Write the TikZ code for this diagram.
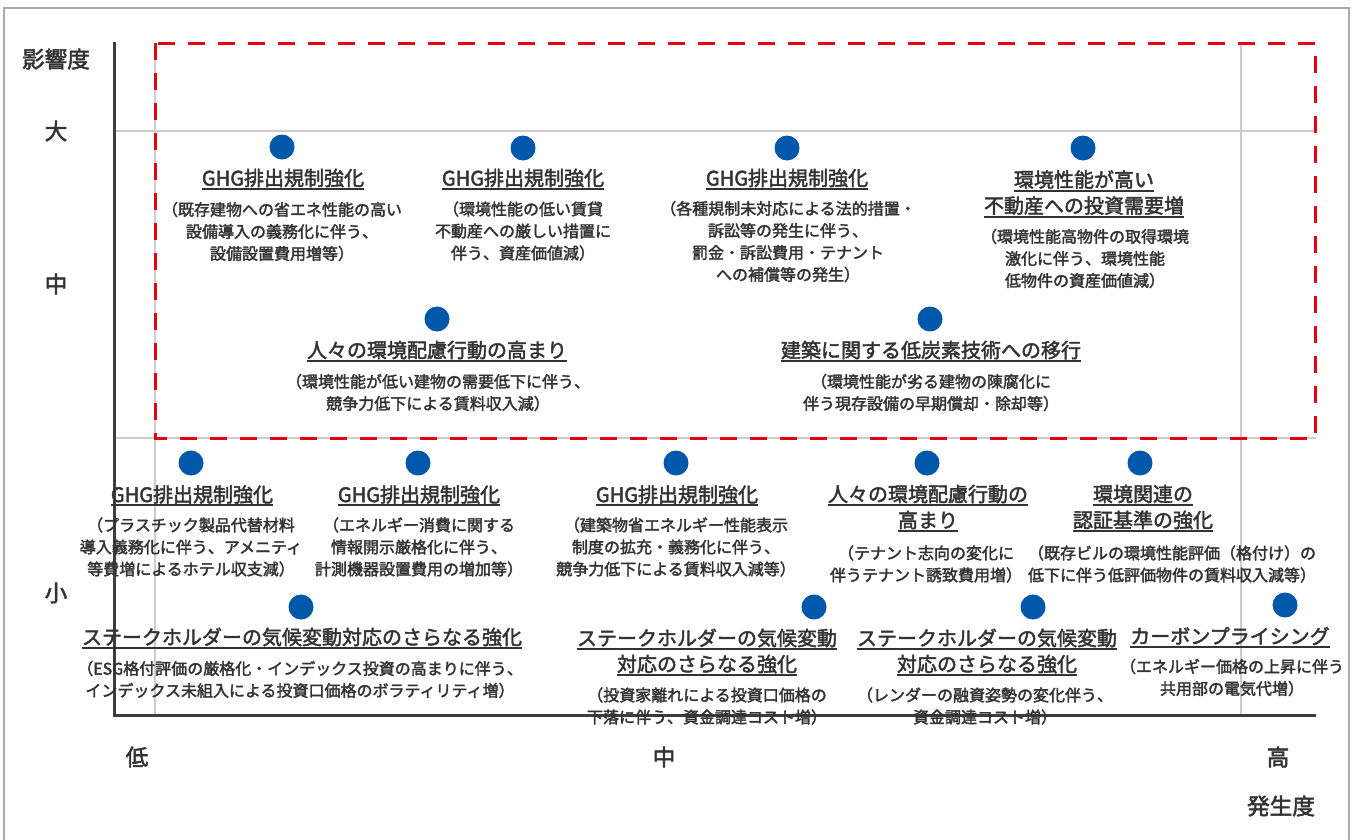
\documentclass[tikz,border=0pt]{standalone}
\usepackage{fontspec}
\setmainfont{Noto Sans CJK JP}[FakeBold=2.2]
\definecolor{txt}{HTML}{333333}
\definecolor{axis}{HTML}{3D3D3D}
\definecolor{grid}{HTML}{CCCCCC}
\definecolor{frame}{HTML}{AAAAAA}
\definecolor{dotblue}{RGB}{0,88,170}
\definecolor{dashred}{HTML}{E60012}
\newsavebox\ulbox
\newlength\ulwd
\newcommand\ulx[1]{\sbox\ulbox{#1}\setlength\ulwd{\wd\ulbox}\smash{\rlap{\color{txt}\rule[-3.3pt]{\ulwd}{1.5pt}}}\usebox\ulbox}
\tikzset{
  bdot/.style={circle,fill=dotblue,inner sep=0pt,minimum size=18.75pt},
  ttl/.style={text=txt,font=\fontsize{15}{19.5}\selectfont,align=center,inner sep=0pt},
  subtxt/.style={text=txt,font=\fontsize{12}{16.5}\selectfont,align=center,inner sep=0pt},
  axl/.style={text=txt,font=\fontsize{17}{20}\selectfont,inner sep=0pt},
  gridline/.style={draw=grid,line width=1.5pt},
  axisline/.style={draw=axis,line width=2.25pt},
  reddash/.style={draw=dashred,line width=2.25pt,dash pattern=on 12.75pt off 9.75pt},
}
\begin{document}
\begin{tikzpicture}[x=0.75pt,y=-0.75pt]
\useasboundingbox (0,0) rectangle (1363,839);
\clip (0,0) rectangle (1363,839);
\fill[white] (0,0) rectangle (1363,839);
\draw[frame,line width=1.1pt] (4,8) rectangle (1349,860);
% coordinates
\coordinate (o) at (114,715);
\coordinate (ytop) at (114,42);
\coordinate (xend) at (1316,715);
\coordinate (gh1a) at (114,131); \coordinate (gh1b) at (1316,131);
\coordinate (gh2a) at (114,438); \coordinate (gh2b) at (1316,438);
\coordinate (gv1a) at (155,43); \coordinate (gv1b) at (155,715);
\coordinate (gv2a) at (1241,43); \coordinate (gv2b) at (1241,715);
\coordinate (r1) at (155,43); \coordinate (r2) at (1315,438);
% grid
\draw[gridline] (gh1a) -- (gh1b);
\draw[gridline] (gh2a) -- (gh2b);
\draw[gridline] (gv1a) -- (gv1b);
\draw[gridline] (gv2a) -- (gv2b);
% red dashed zone
\draw[reddash] (r1) rectangle (r2);
% axes
\draw[axisline] (ytop) -- (o) -- (xend);
% axis labels
\node[axl] (ylab) at (56,59) {影響度};
\node[axl] (ybig) at (56,131) {大};
\node[axl] (ymid) at (56,284) {中};
\node[axl] (ysml) at (56,593) {小};
\node[axl] (xlow) at (137,757) {低};
\node[axl] (xmid) at (664,757) {中};
\node[axl] (xhigh) at (1278,757) {高};
\node[axl] (xlab) at (1281,806) {発生度};
% item 1
\node[bdot] (d1) at (282,147) {};
\node[ttl] (t1) at (283,178) {\ulx{GHG排出規制強化}};
\node[subtxt] (s1) at (282,231.5) {（既存建物への省エネ性能の高い\\設備導入の義務化に伴う、\\設備設置費用増等）};
% item 2
\node[bdot] (d2) at (523,148) {};
\node[ttl] (t2) at (523,178) {\ulx{GHG排出規制強化}};
\node[subtxt] (s2) at (523,231) {（環境性能の低い賃貸\\不動産への厳しい措置に\\伴う、資産価値減）};
% item 3
\node[bdot] (d3) at (787,148) {};
\node[ttl] (t3) at (787,178) {\ulx{GHG排出規制強化}};
\node[subtxt] (s3) at (788,241.5) {（各種規制未対応による法的措置・\\訴訟等の発生に伴う、\\罰金・訴訟費用・テナント\\への補償等の発生）};
% item 4
\node[bdot] (d4) at (1083,148) {};
\node[ttl] (t4) at (1084,192.5) {\ulx{環境性能が高い}\\\ulx{不動産への投資需要増}};
\node[subtxt] (s4) at (1085,258.5) {（環境性能高物件の取得環境\\激化に伴う、環境性能\\低物件の資産価値減）};
% item 5
\node[bdot] (d5) at (437,319) {};
\node[ttl] (t5) at (437,350) {\ulx{人々の環境配慮行動の高まり}};
\node[subtxt] (s5) at (438,392.5) {（環境性能が低い建物の需要低下に伴う、\\競争力低下による賃料収入減）};
% item 6
\node[bdot] (d6) at (930,319) {};
\node[ttl] (t6) at (931,350) {\ulx{建築に関する低炭素技術への移行}};
\node[subtxt] (s6) at (931,392.5) {（環境性能が劣る建物の陳腐化に\\伴う現存設備の早期償却・除却等）};
% item 7
\node[bdot] (d7) at (191,463) {};
\node[ttl] (t7) at (192,494.5) {\ulx{GHG排出規制強化}};
\node[subtxt] (s7) at (191,547) {（プラスチック製品代替材料\\導入義務化に伴う、アメニティ\\等費増によるホテル収支減）};
% item 8
\node[bdot] (d8) at (418,463) {};
\node[ttl] (t8) at (419,494.5) {\ulx{GHG排出規制強化}};
\node[subtxt] (s8) at (419,547) {（エネルギー消費に関する\\情報開示厳格化に伴う、\\計測機器設置費用の増加等）};
% item 9
\node[bdot] (d9) at (676,463) {};
\node[ttl] (t9) at (677,494.5) {\ulx{GHG排出規制強化}};
\node[subtxt] (s9) at (676,547) {（建築物省エネルギー性能表示\\制度の拡充・義務化に伴う、\\競争力低下による賃料収入減等）};
% item 10
\node[bdot] (d10) at (927,463) {};
\node[ttl] (t10) at (928,507) {\ulx{人々の環境配慮行動の}\\\ulx{高まり}};
\node[subtxt] (s10) at (926,564) {（テナント志向の変化に\\伴うテナント誘致費用増）};
% item 11
\node[bdot] (d11) at (1140,463) {};
\node[ttl] (t11) at (1143,507) {\ulx{環境関連の}\\\ulx{認証基準の強化}};
\node[subtxt] (s11) at (1172,564) {（既存ビルの環境性能評価（格付け）の\\低下に伴う低評価物件の賃料収入減等）};
% item 12
\node[bdot] (d12) at (301,607) {};
\node[ttl] (t12) at (302,637) {\ulx{ステークホルダーの気候変動対応のさらなる強化}};
\node[subtxt] (s12) at (300,679.5) {（ESG格付評価の厳格化・インデックス投資の高まりに伴う、\\インデックス未組入による投資口価格のボラティリティ増）};
% item 13
\node[bdot] (d13) at (814,607) {};
\node[ttl] (t13) at (707,651) {\ulx{ステークホルダーの気候変動}\\\ulx{対応のさらなる強化}};
\node[subtxt] (s13) at (707,706) {（投資家離れによる投資口価格の\\下落に伴う、資金調達コスト増）};
% item 14
\node[bdot] (d14) at (1033,607) {};
\node[ttl] (t14) at (987,651) {\ulx{ステークホルダーの気候変動}\\\ulx{対応のさらなる強化}};
\node[subtxt] (s14) at (985,706) {（レンダーの融資姿勢の変化伴う、\\資金調達コスト増）};
% item 15
\node[bdot] (d15) at (1285,605) {};
\node[ttl] (t15) at (1230,636) {\ulx{カーボンプライシング}};
\node[subtxt] (s15) at (1232,677.5) {（エネルギー価格の上昇に伴う\\共用部の電気代増）};
\end{tikzpicture}
\end{document}
